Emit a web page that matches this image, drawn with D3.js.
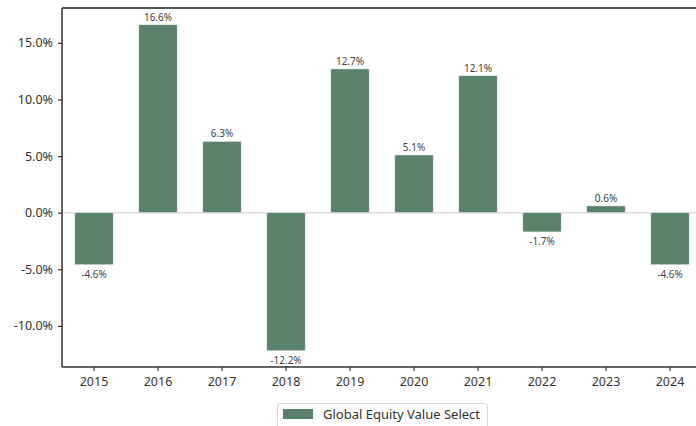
<!DOCTYPE html>
<html><head><meta charset="utf-8">
<script src="https://cdn.jsdelivr.net/npm/d3@7"></script>
<style>
html,body{margin:0;padding:0;background:#fff;}
svg{display:block;font-family:"Noto Sans","Open Sans",sans-serif;}
</style></head>
<body><svg id="c" width="696" height="426"></svg>
<script>
const years = ["2015","2016","2017","2018","2019","2020","2021","2022","2023","2024"];
const returns = [-4.6, 16.6, 6.3, -12.2, 12.7, 5.1, 12.1, -1.7, 0.6, -4.6];
const yTicks = [-10, -5, 0, 5, 10, 15];
const seriesName = "Global Equity Value Select";
const barColor = "#5b806c";

const svg = d3.select("#c");
const L = 62, R = 702, T = 8, B = 367;
const x = d3.scaleBand().domain(years).range([L, R]).paddingInner(0.4).paddingOuter(0.2);
const y = d3.scaleLinear().domain([-13.63, 18.08]).range([B, T]);

// zero line
svg.append("line").attr("x1", L).attr("x2", 696).attr("y1", y(0)).attr("y2", y(0))
  .attr("stroke", "#dcdcdc").attr("stroke-width", 1.5);

// bars
svg.append("g").selectAll("rect").data(years).join("rect")
  .attr("x", d => x(d))
  .attr("width", x.bandwidth())
  .attr("y", (d, i) => y(Math.max(0, returns[i])))
  .attr("height", (d, i) => Math.abs(y(returns[i]) - y(0)))
  .attr("fill", barColor)
  .attr("stroke", "#e8efe9").attr("stroke-width", 0.6);

// bar labels
svg.append("g").selectAll("text").data(years).join("text")
  .attr("x", d => x(d) + x.bandwidth() / 2)
  .attr("y", (d, i) => returns[i] >= 0 ? y(returns[i]) - 4 : y(returns[i]) + 13)
  .attr("text-anchor", "middle")
  .attr("font-size", 10)
  .attr("fill", "#444")
  .text((d, i) => returns[i].toFixed(1) + "%");

// axes
const yAxis = d3.axisLeft(y).tickValues(yTicks).tickFormat(d => d.toFixed(1) + "%").tickSize(4).tickPadding(5);
const gy = svg.append("g").attr("transform", `translate(${L},0)`).call(yAxis);
gy.select(".domain").remove();
gy.selectAll(".tick line").attr("stroke", "#333").attr("stroke-width", 1.2);
gy.selectAll(".tick text").attr("font-size", 12.5).attr("fill", "#333").attr("font-family", "Noto Sans");

const xAxis = d3.axisBottom(x).tickSize(4).tickPadding(6);
const gx = svg.append("g").attr("transform", `translate(0,${B})`).call(xAxis);
gx.select(".domain").remove();
gx.selectAll(".tick line").attr("stroke", "#333").attr("stroke-width", 1.2);
gx.selectAll(".tick text").attr("font-size", 12.5).attr("fill", "#333").attr("font-family", "Noto Sans");

// frame
svg.append("line").attr("x1", L).attr("x2", L).attr("y1", T).attr("y2", B).attr("stroke", "#333").attr("stroke-width", 1.5);
svg.append("line").attr("x1", L).attr("x2", 696).attr("y1", B).attr("y2", B).attr("stroke", "#333").attr("stroke-width", 1.5);
svg.append("line").attr("x1", L).attr("x2", 696).attr("y1", T).attr("y2", T).attr("stroke", "#555").attr("stroke-width", 1.8);

// legend
const lg = svg.append("g");
lg.append("rect").attr("x", 277.5).attr("y", 403.5).attr("width", 210).attr("height", 30).attr("rx", 3)
  .attr("fill", "#fff").attr("stroke", "#d6d6d6");
lg.append("rect").attr("x", 283).attr("y", 409).attr("width", 30).attr("height", 10).attr("fill", barColor);
lg.append("text").attr("x", 323).attr("y", 419).attr("font-size", 13).attr("fill", "#333").text(seriesName);
</script></body></html>
